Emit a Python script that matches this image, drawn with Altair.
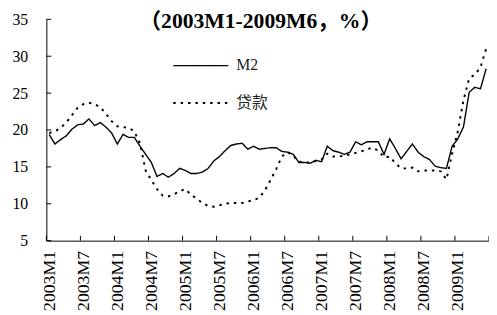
import json
import altair as alt
import pandas as pd

# ---- data ----
x_labels = ["2003M1", "2003M7", "2004M1", "2004M7", "2005M1", "2005M7", "2006M1",
            "2006M7", "2007M1", "2007M7", "2008M1", "2008M7", "2009M1"]

m2 = [19.4, 18.1, 18.7, 19.2, 20.1, 20.7, 20.8, 21.5, 20.6, 21.0, 20.4, 19.6,
      18.1, 19.4, 19.0, 19.0, 17.8, 16.7, 15.6, 13.7, 14.1, 13.6, 14.1, 14.8,
      14.5, 14.1, 14.1, 14.3, 14.8, 15.8, 16.4, 17.2, 17.9, 18.1, 18.2, 17.4,
      17.8, 17.4, 17.5, 17.6, 17.6, 17.1, 17.0, 16.7, 15.6, 15.6, 15.5, 15.9,
      15.7, 17.8, 17.2, 17.0, 16.7, 17.0, 18.4, 18.0, 18.4, 18.4, 18.4, 16.7,
      18.8, 17.5, 16.1, 17.1, 18.1, 17.0, 16.4, 16.0, 15.1, 14.9, 14.8, 17.8,
      18.8, 20.4, 25.1, 25.8, 25.6, 28.3]

loans = [19.6, 19.8, 20.3, 21.0, 22.0, 23.0, 23.5, 23.7, 23.5, 23.1, 22.2, 21.2,
         20.5, 20.4, 20.3, 19.8, 18.2, 14.5, 13.2, 12.0, 11.1, 11.0, 11.3, 11.7,
         12.0, 11.2, 10.7, 10.1, 9.7, 9.6, 9.8, 10.0, 10.1, 10.1, 10.1, 10.3,
         10.5, 10.8, 11.8, 13.2, 14.7, 16.4, 17.0, 16.5, 15.7, 15.6, 15.6, 15.8,
         16.0, 16.8, 16.4, 16.4, 16.5, 16.7, 16.9, 17.1, 17.4, 17.6, 17.2, 16.3,
         16.4, 15.5, 14.8, 14.8, 14.9, 14.4, 14.5, 14.5, 14.5, 14.4, 13.3, 16.8,
         19.8, 24.0, 27.0, 27.5, 28.5, 31.0]

series_names = ["M2", "贷款"]
y_ticks = [5, 10, 15, 20, 25, 30, 35]
x_ticks = [0, 6, 12, 18, 24, 30, 36, 42, 48, 54, 60, 66, 72, 78]
title_text = "（2003M1-2009M6，%）"

n = len(m2)
rows = []
for i in range(n):
    rows.append({"t": i + 0.5, "value": m2[i], "series": series_names[0]})
for i in range(n):
    rows.append({"t": i + 0.5, "value": loans[i], "series": series_names[1]})
df = pd.DataFrame(rows)

SERIF = "Liberation Serif, Times New Roman, Noto Sans CJK SC"
W, H = 450, 225

x_scale = alt.Scale(domain=[0, 78], nice=False, zero=False)
y_scale = alt.Scale(domain=[5, 35], nice=False, zero=False)

label_expr = json.dumps(x_labels) + "[floor(datum.value / 6)]"

x_axis = alt.Axis(values=[k * 6 + 0.5 for k in range(len(x_labels))],
                  labelExpr=label_expr, labelAngle=270, labelAlign="right",
                  labelBaseline="middle", labelPadding=10, ticks=False,
                  grid=False, title=None, labelOverlap=False, labelFlush=False,
                  labelFont=SERIF, labelFontSize=18, labelColor="black",
                  domainColor="black", domainWidth=1)
y_axis = alt.Axis(values=y_ticks, ticks=False, grid=False, title=None,
                  labelPadding=19, labelFont=SERIF, labelFontSize=16,
                  labelColor="black", domainColor="black", domainWidth=1)

lines = alt.Chart(df).mark_line(color="black").encode(
    x=alt.X("t:Q", scale=x_scale, axis=x_axis),
    y=alt.Y("value:Q", scale=y_scale, axis=y_axis),
    strokeDash=alt.StrokeDash(
        "series:N",
        scale=alt.Scale(domain=series_names, range=[[1, 0], [2.5, 5]]),
        legend=alt.Legend(title=None, orient="none", legendX=149, legendY=39,
                          symbolType="M-4,0H4", symbolSize=196, symbolStrokeWidth=1.6,
                          symbolStrokeColor="black", labelOffset=28, rowPadding=22,
                          padding=0, labelFont=SERIF, labelFontSize=16,
                          labelColor="#222")),
    strokeWidth=alt.StrokeWidth(
        "series:N",
        scale=alt.Scale(domain=series_names, range=[1.4, 2.0]),
        legend=None),
)

ytick_rules = alt.Chart(pd.DataFrame({"value": y_ticks})).mark_rule(
    color="black", strokeWidth=1).encode(
    y=alt.Y("value:Q", scale=y_scale, axis=y_axis),
    x=alt.value(0), x2=alt.value(5))

xtick_rules = alt.Chart(pd.DataFrame({"t": x_ticks})).mark_rule(
    color="black", strokeWidth=1).encode(
    x=alt.X("t:Q", scale=x_scale, axis=x_axis),
    y=alt.value(H), y2=alt.value(H - 5))

title = alt.Chart(pd.DataFrame({"s": [title_text]})).mark_text(
    font=SERIF, fontSize=22, fontWeight="bold", color="black",
    align="center", baseline="alphabetic").encode(
    text="s:N", x=alt.value(218), y=alt.value(9))

chart = alt.layer(lines, ytick_rules, xtick_rules, title).properties(
    width=W, height=H,
    autosize="none",
    padding={"left": 39, "top": 9, "right": 0, "bottom": 70},
).configure_view(stroke=None)

chart.save("out.html", embed_options={"renderer": "svg", "actions": False})
